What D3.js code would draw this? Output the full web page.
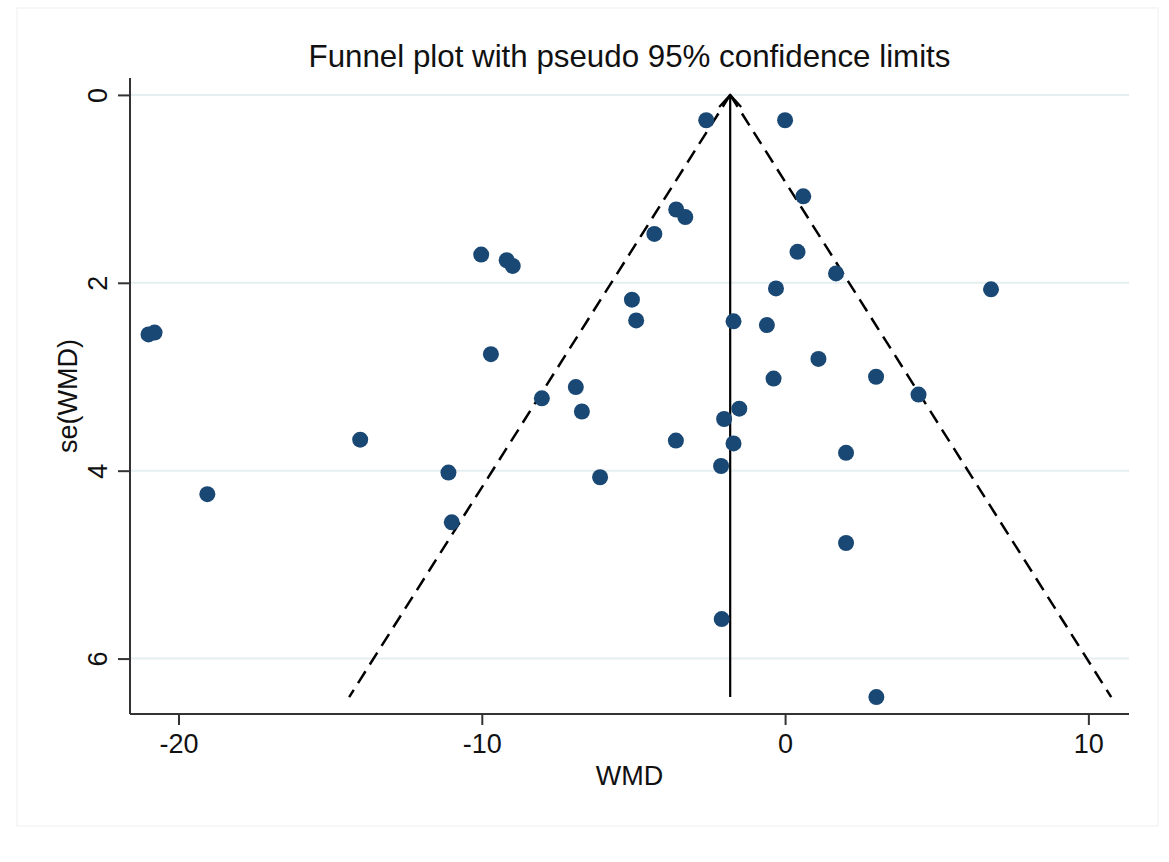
<!DOCTYPE html>
<html>
<head>
<meta charset="utf-8">
<script src="https://cdn.jsdelivr.net/npm/d3@7"></script>
<style>
  html, body { margin: 0; padding: 0; background: #fff; }
  svg { display: block; font-family: "Liberation Sans", Arial, sans-serif; }
</style>
</head>
<body>
<svg id="chart" width="1169" height="862"></svg>
<script>
// Study-level weighted mean differences and their standard errors
const wmd = [-2.60, 0.00, 0.60, -3.59, -3.29, -4.31, 0.41, 1.68, -0.30, -5.05,
             -10.02, -9.18, -8.98, -4.91, -9.70, -8.02, -6.90, -6.70, -3.60, -20.99,
             -20.79, -19.05, -14.01, -11.10, -10.99, -1.70, -0.60, 1.10, -0.38, 3.00,
             4.40, -1.51, -2.01, -1.70, 2.01, -2.11, 2.01, -2.09, 3.01, -6.10, 6.79];
const se  = [0.27, 0.27, 1.08, 1.22, 1.30, 1.48, 1.67, 1.90, 2.06, 2.18,
             1.70, 1.76, 1.82, 2.40, 2.76, 3.23, 3.11, 3.37, 3.68, 2.55,
             2.53, 4.25, 3.67, 4.02, 4.55, 2.41, 2.45, 2.81, 3.02, 3.00,
             3.19, 3.34, 3.45, 3.71, 3.81, 3.95, 4.77, 5.58, 6.41, 4.07, 2.07];

// Pooled estimate and pseudo 95% limits
const pooled = -1.81;
const z = 1.96;

const xTicks = [-20, -10, 0, 10];
const yTicks = [0, 2, 4, 6];

const titleText = "Funnel plot with pseudo 95% confidence limits";
const xTitle = "WMD";
const yTitle = "se(WMD)";

const svg = d3.select("#chart");
const plotL = 130, plotR = 1129, plotT = 78, plotB = 714;

const x = d3.scaleLinear().domain([-21.6, 11.34]).range([plotL, plotR]);
const y = d3.scaleLinear().domain([-0.18, 6.59]).range([plotT, plotB]);

// plain hyphen-minus tick labels
const fmt = d => String(d);

// graph region frame
svg.append("rect")
  .attr("x", 17).attr("y", 8).attr("width", 1141).attr("height", 818)
  .attr("fill", "#fff").attr("stroke", "#f0f0f0").attr("stroke-width", 1);

// horizontal grid
svg.append("g").selectAll("line").data(yTicks).join("line")
  .attr("x1", plotL).attr("x2", plotR)
  .attr("y1", d => y(d)).attr("y2", d => y(d))
  .attr("stroke", "#e5eef0").attr("stroke-width", 2);

// axes
const xAxis = svg.append("g").attr("transform", `translate(0,${plotB})`)
  .call(d3.axisBottom(x).tickValues(xTicks).tickSize(11).tickPadding(9).tickFormat(fmt));
const yAxis = svg.append("g").attr("transform", `translate(${plotL},0)`)
  .call(d3.axisLeft(y).tickValues(yTicks).tickSize(12).tickFormat(fmt));

[xAxis, yAxis].forEach(g => {
  g.select(".domain").attr("stroke", "#333").attr("stroke-width", 2);
  g.selectAll(".tick line").attr("stroke", "#333").attr("stroke-width", 2);
  g.selectAll("text").attr("fill", "#111").style("font-size", "27px")
    .style("font-family", "'Liberation Sans', Arial, sans-serif");
});
xAxis.select(".domain").attr("d", `M${plotL},0H${plotR}`);
yAxis.select(".domain").attr("d", `M0,${plotT}V${plotB}`);

// rotated y tick labels
yAxis.selectAll(".tick text")
  .attr("x", null).attr("dy", null)
  .attr("text-anchor", "middle")
  .attr("transform", "translate(-23,0) rotate(-90)");

// pseudo confidence limits
const seMax = d3.max(se);
const fun = svg.append("g");
fun.append("line")
  .attr("x1", x(pooled)).attr("y1", y(0))
  .attr("x2", x(pooled - z * seMax)).attr("y2", y(seMax))
  .attr("stroke", "#000").attr("stroke-width", 2.5).attr("stroke-dasharray", "14,8");
fun.append("line")
  .attr("x1", x(pooled)).attr("y1", y(0))
  .attr("x2", x(pooled + z * seMax)).attr("y2", y(seMax))
  .attr("stroke", "#000").attr("stroke-width", 2.5).attr("stroke-dasharray", "14,8");

// pooled estimate line with arrowhead
fun.append("line")
  .attr("x1", x(pooled)).attr("y1", y(seMax))
  .attr("x2", x(pooled)).attr("y2", y(0))
  .attr("stroke", "#000").attr("stroke-width", 2.2);
fun.append("path")
  .attr("d", `M${x(pooled) - 11},${y(0) + 12}L${x(pooled)},${y(0)}L${x(pooled) + 11},${y(0) + 12}`)
  .attr("fill", "none").attr("stroke", "#000").attr("stroke-width", 2.2);

// study points
svg.append("g").selectAll("circle").data(d3.range(wmd.length)).join("circle")
  .attr("cx", i => x(wmd[i])).attr("cy", i => y(se[i]))
  .attr("r", 8).attr("fill", "#1a4874");

// titles
svg.append("text").attr("x", (plotL + plotR) / 2).attr("y", 67)
  .attr("text-anchor", "middle").style("font-size", "31.3px").attr("fill", "#111")
  .text(titleText);
svg.append("text").attr("x", (plotL + plotR) / 2).attr("y", 785)
  .attr("text-anchor", "middle").style("font-size", "27px").attr("fill", "#111")
  .text(xTitle);
svg.append("text").attr("transform", `translate(77,${(plotT + plotB) / 2}) rotate(-90)`)
  .attr("text-anchor", "middle").style("font-size", "27px").attr("fill", "#111")
  .text(yTitle);
</script>
</body>
</html>
